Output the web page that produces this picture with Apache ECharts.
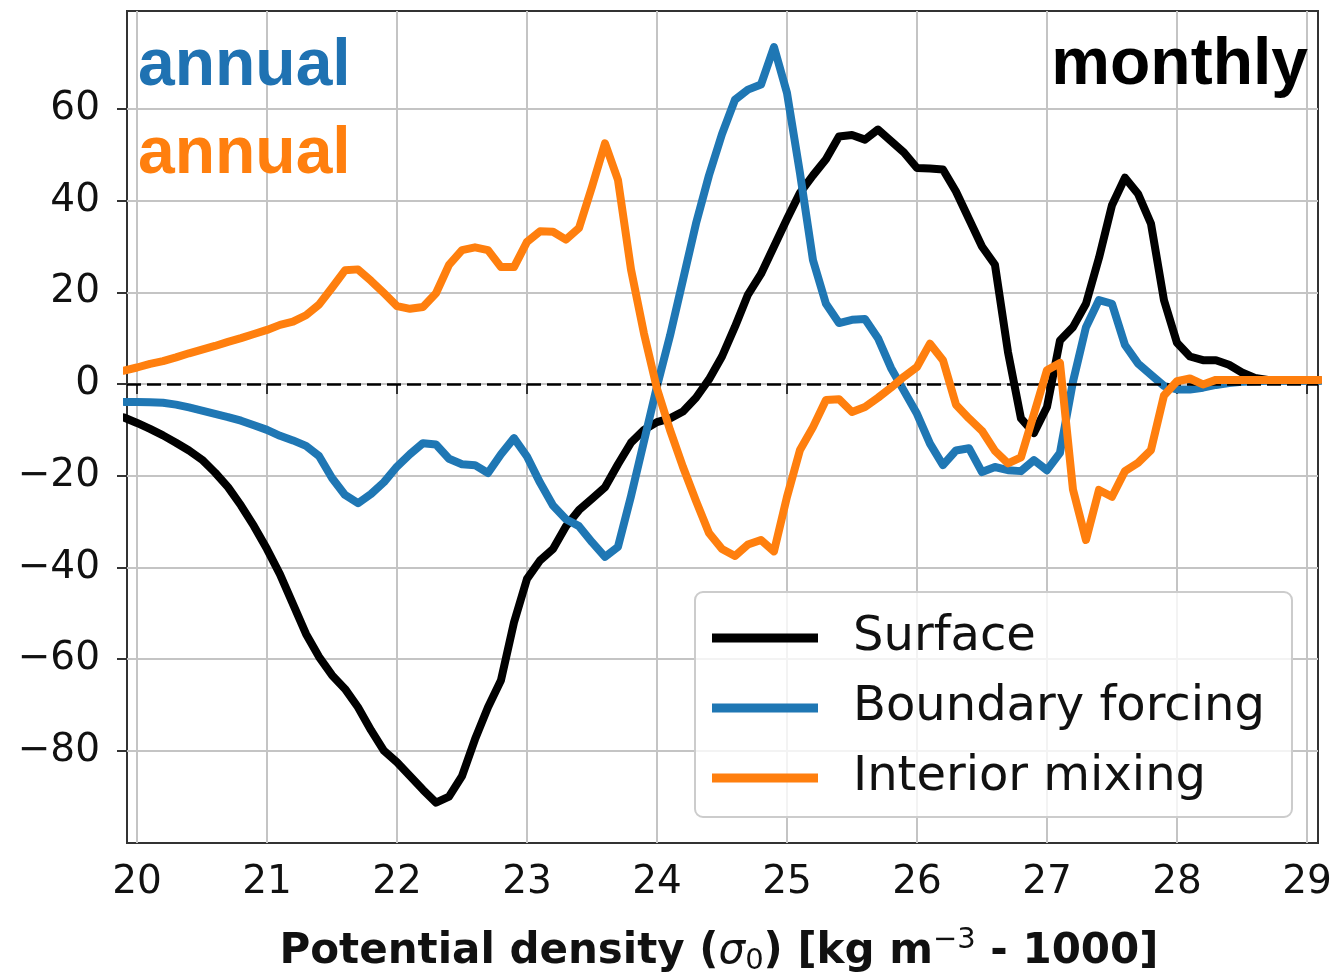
<!DOCTYPE html>
<html>
<head>
<meta charset="utf-8">
<script src="https://cdn.jsdelivr.net/npm/echarts@6/dist/echarts.min.js"></script>
<style>
  html, body { margin: 0; padding: 0; background: #ffffff; }
  #chart { width: 1338px; height: 976px; }
</style>
</head>
<body>
<div id="chart"></div>
<script>
// Potential density bins (sigma_0, kg m^-3 - 1000)
const density = [
  19.9, 20.0, 20.1, 20.2, 20.3, 20.4, 20.5, 20.6, 20.7, 20.8, 20.9,
  21.0, 21.1, 21.2, 21.3, 21.4, 21.5, 21.6, 21.7, 21.8, 21.9,
  22.0, 22.1, 22.2, 22.3, 22.4, 22.5, 22.6, 22.7, 22.8, 22.9,
  23.0, 23.1, 23.2, 23.3, 23.4, 23.5, 23.6, 23.7, 23.8, 23.9,
  24.0, 24.1, 24.2, 24.3, 24.4, 24.5, 24.6, 24.7, 24.8, 24.9,
  25.0, 25.1, 25.2, 25.3, 25.4, 25.5, 25.6, 25.7, 25.8, 25.9,
  26.0, 26.1, 26.2, 26.3, 26.4, 26.5, 26.6, 26.7, 26.8, 26.9,
  27.0, 27.1, 27.2, 27.3, 27.4, 27.5, 27.6, 27.7, 27.8, 27.9,
  28.0, 28.1, 28.2, 28.3, 28.4, 28.5, 28.6, 28.7, 28.8, 28.9,
  29.0, 29.1
];

// Surface transformation (monthly)
const surface = [
  -7.3, -8.5, -9.8, -11.2, -12.8, -14.5, -16.5, -19.3, -22.5, -26.5, -31.0,
  -36.0, -41.5, -48.0, -54.5, -59.5, -63.5, -66.5, -70.5, -75.5, -80.0,
  -82.5, -85.5, -88.5, -91.3, -90.0, -85.5, -77.5, -70.5, -64.6, -52.0,
  -42.5, -38.5, -36.0, -31.0, -27.5, -25.0, -22.5, -17.5, -12.8, -10.0,
  -8.3, -7.5, -6.0, -3.0, 1.0, 6.0, 12.5, 19.5, 24.0, 30.0,
  36.0, 41.7, 45.5, 49.0, 54.0, 54.3, 53.3, 55.5, 53.0, 50.5,
  47.1, 47.0, 46.8, 42.0, 36.0, 30.0, 26.0, 7.0, -7.5, -10.7,
  -5.0, 9.5, 12.4, 17.5, 27.5, 39.0, 45.0, 41.5, 35.0, 18.3,
  9.0, 6.0, 5.2, 5.2, 4.2, 2.5, 1.3, 0.9, 0.8, 0.8,
  0.8, 0.8
];

// Boundary forcing (annual)
const boundary = [
  -3.9, -3.9, -4.0, -4.1, -4.5, -5.1, -5.8, -6.5, -7.2, -8.0, -9.0,
  -10.0, -11.3, -12.3, -13.5, -15.7, -20.5, -24.2, -26.0, -24.0, -21.4,
  -18.0, -15.3, -12.9, -13.2, -16.3, -17.5, -17.7, -19.4, -15.3, -11.8,
  -15.8, -21.5, -26.5, -29.5, -31.0, -34.5, -37.7, -35.5, -24.5, -12.5,
  -0.5, 10.5, 22.7, 35.0, 45.5, 54.5, 62.0, 64.2, 65.3, 73.5,
  63.5, 46.0, 27.0, 17.5, 13.3, 14.0, 14.2, 10.0, 3.5, -1.5,
  -6.5, -13.0, -17.7, -14.5, -14.0, -19.2, -18.1, -18.8, -19.0, -16.6,
  -18.8, -15.0, 0.5, 12.4, 18.3, 17.5, 8.5, 4.5, 2.0, -0.4,
  -1.2, -1.2, -0.8, -0.2, 0.2, 0.5, 0.6, 0.7, 0.7, 0.7,
  0.7, 0.7
];

// Interior mixing (annual)
const interior = [
  2.9, 3.6, 4.4, 5.0, 5.8, 6.7, 7.5, 8.3, 9.2, 10.0, 10.9,
  11.8, 12.9, 13.6, 15.0, 17.3, 21.0, 24.8, 25.0, 22.5, 19.8,
  17.0, 16.4, 16.8, 19.8, 26.0, 29.2, 29.8, 29.2, 25.5, 25.5,
  31.0, 33.3, 33.2, 31.5, 34.0, 43.0, 52.5, 44.5, 25.0, 11.0,
  -1.0, -10.0, -18.1, -25.5, -32.5, -36.0, -37.5, -35.0, -34.0, -36.5,
  -24.6, -14.4, -9.4, -3.5, -3.3, -6.1, -5.0, -3.0, -0.8, 1.6,
  3.7, 8.8, 5.2, -4.5, -7.5, -10.2, -14.6, -17.3, -16.0, -6.5,
  3.0, 4.6, -23.0, -34.0, -23.1, -24.6, -19.0, -17.2, -14.4, -2.5,
  0.6, 1.2, -0.1, 0.9, 0.9, 0.9, 0.9, 0.9, 0.9, 0.9,
  0.9, 0.9
];

const seriesNames = ['Surface', 'Boundary forcing', 'Interior mixing'];
const seriesColors = ['#000000', '#1f77b4', '#ff7f0e'];
const xTicks = [20, 21, 22, 23, 24, 25, 26, 27, 28, 29];
const yTicks = [-80, -60, -40, -20, 0, 20, 40, 60];
const xRange = [19.923, 29.085];
const yRange = [-100.1, 81.35];

const pairs = vals => density.map((d, i) => [d, vals[i]]);
const minus = v => (v < 0 ? '\u2212' + Math.abs(v) : String(v));

const tickFont = { fontFamily: 'DejaVu Sans', fontSize: 39, color: '#111111' };
const gridLine = { show: true, lineStyle: { color: '#c4c4c4', width: 2 } };

const chart = echarts.init(document.getElementById('chart'), null, { renderer: 'canvas' });

const lineSeries = [surface, boundary, interior].map((vals, k) => ({
  name: seriesNames[k],
  type: 'line',
  data: pairs(vals),
  showSymbol: false,
  smooth: false,
  clip: true,
  animation: false,
  lineStyle: { color: seriesColors[k], width: 8, join: 'round', cap: 'round' },
  itemStyle: { color: seriesColors[k] },
  z: 3 + k
}));

// dashed zero reference line
lineSeries[0].markLine = {
  silent: true,
  symbol: 'none',
  label: { show: false },
  animation: false,
  lineStyle: { color: '#000000', width: 2.5, type: [14, 6] },
  data: [{ yAxis: 0 }]
};

chart.setOption({
  backgroundColor: '#ffffff',
  animation: false,
  grid: {
    left: 127, right: 20, top: 11, bottom: 133,
    show: true, borderColor: '#333333', borderWidth: 2,
    backgroundColor: 'transparent'
  },
  xAxis: {
    type: 'value',
    min: xRange[0], max: xRange[1],
    axisLine: { show: false },
    axisTick: { show: true, customValues: xTicks, length: 10, lineStyle: { color: '#333333', width: 2 } },
    axisLabel: { customValues: xTicks, margin: 20, ...tickFont },
    splitLine: gridLine
  },
  yAxis: {
    type: 'value',
    min: yRange[0], max: yRange[1],
    axisLine: { show: false },
    axisTick: { show: true, customValues: yTicks, length: 10, lineStyle: { color: '#333333', width: 2 } },
    axisLabel: { customValues: yTicks, margin: 27, formatter: minus, ...tickFont },
    splitLine: gridLine
  },
  legend: {
    data: seriesNames,
    orient: 'vertical',
    left: 695, top: 592,
    icon: 'rect',
    itemWidth: 106, itemHeight: 9,
    itemGap: 20,
    padding: [21, 27, 14, 17],
    selectedMode: false,
    borderColor: '#cccccc', borderWidth: 2, borderRadius: 8,
    backgroundColor: 'rgba(255,255,255,0.8)',
    textStyle: {
      fontFamily: 'DejaVu Sans', fontSize: 48, color: '#111111',
      lineHeight: 50, padding: [0, 0, 0, 30]
    }
  },
  graphic: [
    {
      type: 'text', left: 138, top: 34, z: 10,
      style: { text: 'annual', fill: '#1f72b2', font: 'bold 66px "Liberation Sans", Arial, sans-serif' }
    },
    {
      type: 'text', left: 138, top: 122, z: 10,
      style: { text: 'annual', fill: '#ff7f0e', font: 'bold 66px "Liberation Sans", Arial, sans-serif' }
    },
    {
      type: 'text', right: 30, top: 33, z: 10,
      style: { text: 'monthly', fill: '#000000', font: 'bold 66px "Liberation Sans", Arial, sans-serif' }
    },
    {
      type: 'text', x: 719, y: 952, z: 10,
      style: {
        text: '{b|Potential density (}{i|\u03c3}{sub|0}{b|) [kg m}{sup|\u22123}{b| - 1000]}',
        align: 'center', verticalAlign: 'middle',
        rich: {
          b: { fontFamily: 'DejaVu Sans', fontWeight: 'bold', fontSize: 42, fill: '#111111' },
          i: { fontFamily: 'DejaVu Sans', fontStyle: 'italic', fontSize: 42, fill: '#111111' },
          sub: { fontFamily: 'DejaVu Sans', fontSize: 29, fill: '#111111', padding: [18, 0, 0, 0] },
          sup: { fontFamily: 'DejaVu Sans', fontSize: 29, fill: '#111111', padding: [0, 0, 24, 0] }
        }
      }
    }
  ],
  series: lineSeries
});
</script>
</body>
</html>
